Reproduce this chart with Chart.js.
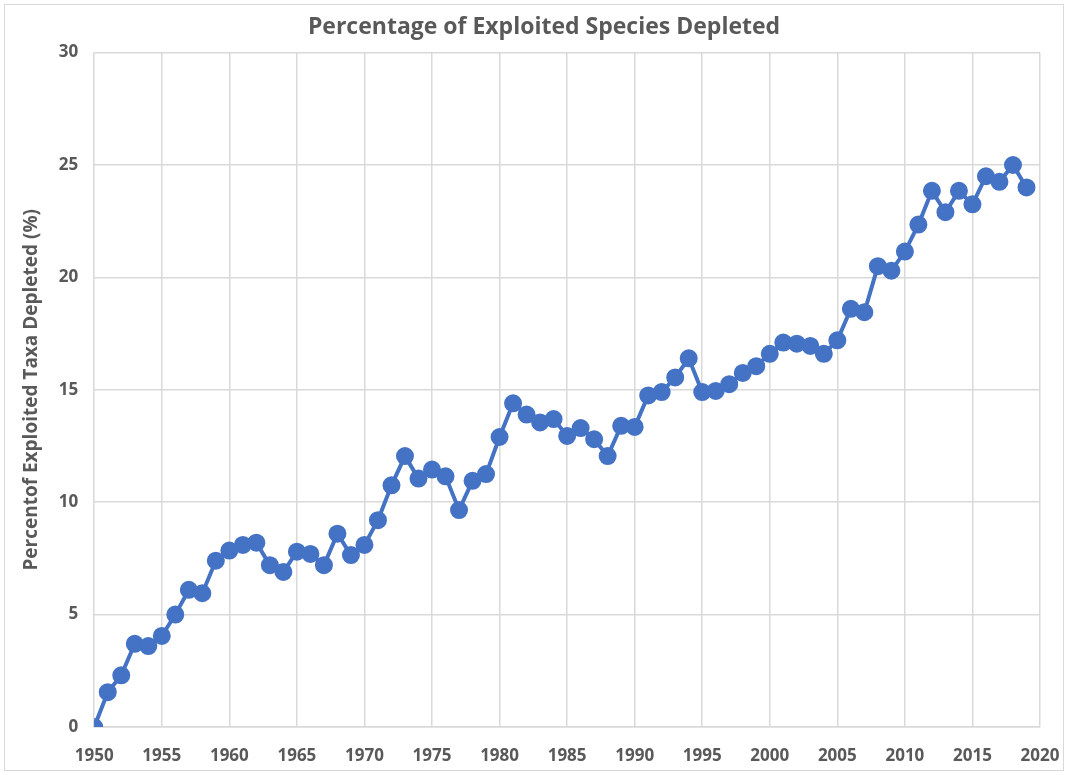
<!DOCTYPE html>
<html>
<head>
<meta charset="utf-8">
<script src="https://cdn.jsdelivr.net/npm/chart.js@4"></script>
<style>
  html, body { margin: 0; padding: 0; background: #fff; overflow: hidden; }
  #frame { position: absolute; left: 4px; top: 4px; width: 1058px; height: 765px; border: 1px solid #d9d9d9; }
  #depletedChart { position: absolute; left: 0; top: 0; }
</style>
</head>
<body>
<div id="frame"></div>
<canvas id="depletedChart" width="1068" height="775"></canvas>
<script>
// Dados do gráfico
const years = [];
for (let y = 1950; y <= 2019; y++) years.push(y);

const percentDepleted = [
    0.0, 1.55, 2.3, 3.7, 3.6, 4.05, 5.0, 6.1, 5.95, 7.4,
    7.85, 8.1, 8.2, 7.2, 6.9, 7.8, 7.7, 7.2, 8.6, 7.65,
    8.1, 9.2, 10.75, 12.05, 11.05, 11.45, 11.15, 9.65, 10.95, 11.25,
    12.9, 14.4, 13.9, 13.55, 13.7, 12.95, 13.3, 12.8, 12.05, 13.4,
    13.35, 14.75, 14.9, 15.55, 16.4, 14.9, 14.95, 15.25, 15.75, 16.05,
    16.6, 17.1, 17.05, 16.95, 16.6, 17.2, 18.6, 18.45, 20.5, 20.3,
    21.15, 22.35, 23.85, 22.9, 23.85, 23.25, 24.5, 24.25, 25.0, 24.0
];

const xTicks = [1950, 1955, 1960, 1965, 1970, 1975, 1980, 1985, 1990, 1995, 2000, 2005, 2010, 2015, 2020];
const yTicks = [0, 5, 10, 15, 20, 25, 30];

const fontFamily = "'Open Sans', sans-serif";
const textColor = '#595959';
const gridColor = '#d9d9d9';

const ctx = document.getElementById('depletedChart').getContext('2d');
new Chart(ctx, {
    type: 'line',
    data: {
        datasets: [{
            label: 'Percent Depleted',
            data: years.map((y, i) => ({ x: y, y: percentDepleted[i] })),
            borderColor: '#4472c4',
            backgroundColor: '#4472c4',
            borderWidth: 4,
            pointRadius: 7,
            pointHoverRadius: 7,
            tension: 0
        }]
    },
    options: {
        responsive: false,
        animation: false,
        layout: { padding: { left: 20, right: 0, top: 5, bottom: 6 } },
        scales: {
            x: {
                type: 'linear',
                min: 1950,
                max: 2020,
                afterBuildTicks: axis => { axis.ticks = xTicks.map(v => ({ value: v })); },
                afterFit: axis => {
                    axis.height = 42;       // altura fixa do eixo x
                    axis.paddingRight = 28; // espaço à direita do "2020"
                },
                ticks: {
                    color: textColor,
                    font: { family: fontFamily, size: 17, weight: 'bold' },
                    callback: v => String(v),
                    maxRotation: 0,
                    padding: 19
                },
                grid: { color: gridColor, lineWidth: 1.5, drawTicks: false },
                border: { color: gridColor, width: 1.5 }
            },
            y: {
                min: 0,
                max: 30,
                afterBuildTicks: axis => { axis.ticks = yTicks.map(v => ({ value: v })); },
                ticks: {
                    color: textColor,
                    font: { family: fontFamily, size: 17, weight: 'bold' },
                    padding: 16
                },
                grid: { color: gridColor, lineWidth: 1.5, drawTicks: false },
                border: { display: false },
                title: {
                    display: true,
                    text: 'Percentof Exploited Taxa Depleted (%)',
                    color: textColor,
                    font: { family: fontFamily, size: 19, weight: 'bold' },
                    padding: { top: 0, bottom: 0 }
                }
            }
        },
        plugins: {
            legend: { display: false },
            tooltip: { enabled: false },
            title: {
                display: true,
                text: 'Percentage of Exploited Species Depleted',
                color: textColor,
                font: { family: fontFamily, size: 23, weight: 'bold' },
                padding: { top: 9, bottom: 11 }
            }
        }
    }
});
</script>
</body>
</html>
